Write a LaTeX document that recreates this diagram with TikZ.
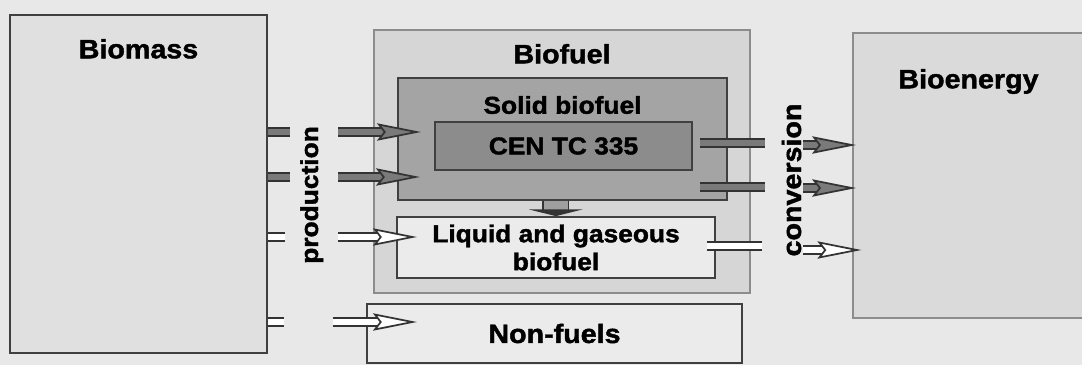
\documentclass[tikz,border=0pt]{standalone}
\usepackage{fontspec}
\setmainfont{Liberation Sans}[FakeStretch=1.1, BoldFeatures={FakeStretch=1.08, FakeBold=1.6}]
\usepackage{tikz}
\usetikzlibrary{arrows.meta,positioning}

\definecolor{paper}{HTML}{E8E8E8}
\definecolor{massfill}{HTML}{E0E0E0}
\definecolor{fuelfill}{HTML}{D6D6D6}
\definecolor{solidfill}{HTML}{A4A4A4}
\definecolor{cenfill}{HTML}{8C8C8C}
\definecolor{lightfill}{HTML}{EBEBEB}
\definecolor{energyfill}{HTML}{DADADA}
\definecolor{flowfill}{HTML}{7A7A7A}

\begin{document}
\begin{tikzpicture}[
  x=0.75pt, y=-0.75pt,
  lblbig/.style={font=\fontsize{19.9}{23}\selectfont\bfseries, inner sep=0pt},
  lblsmall/.style={font=\fontsize{18.3}{21}\selectfont\bfseries, inner sep=0pt, align=center},
  panel/.style={draw=black!75, line width=1.3pt},
  outer/.style={draw=black!45, line width=1.3pt},
  stubdark/.style={draw=black!80, line width=1.3pt, double=flowfill, double distance=4.5pt},
  stublight/.style={draw=black!80, line width=1.3pt, double=white, double distance=4.5pt},
  flowdark/.style={stubdark, -{Stealth[length=33pt, width=13pt, inset=5pt, fill=flowfill]}},
  flowlight/.style={stublight, -{Stealth[length=33pt, width=13pt, inset=5pt, fill=white]}},
  fatdown/.style={draw=black!80, line width=1.2pt, double=gray!75, double distance=18pt, -{Triangle[length=5pt, width=40pt]}},
]
\path[use as bounding box, fill=paper] (0,0) rectangle (1082,365);
% boxes
\node[panel, fill=massfill, minimum width=192.75pt, minimum height=253.5pt] (biomass) at (138.5,184) {};
\node[outer, fill=fuelfill, minimum width=282pt, minimum height=197.25pt] (biofuel) at (562,161.5) {};
\node[panel, fill=solidfill, minimum width=246.75pt, minimum height=91.5pt] (solid) at (562.5,139) {};
\node[panel, fill=cenfill, minimum width=192.75pt, minimum height=36pt, lblsmall] (cen) at (563.5,146) {CEN TC 335};
\node[panel, fill=lightfill, minimum width=238.5pt, minimum height=45.75pt, lblsmall] (liquid) at (556,247.5) {Liquid and gaseous\\biofuel};
\node[panel, fill=lightfill, minimum width=281.25pt, minimum height=44.25pt, lblbig] (nonfuel) at (554.5,333.5) {Non-fuels};
\node[outer, fill=energyfill, minimum width=173.25pt, minimum height=213.75pt] (bioenergy) at (968.5,175.5) {};
% titles
\node[lblbig, below=18.5pt of biomass.north] {Biomass};
\node[lblbig, below=11pt of biofuel.north] {Biofuel};
\node[lblsmall, below=14pt of solid.north] {Solid biofuel};
\node[lblbig, below=27.5pt of bioenergy.north] {Bioenergy};
\node[lblsmall, rotate=90, anchor=base] (prod) at (318,195) {production};
\node[lblbig, rotate=90, anchor=base] (conv) at (801,180) {conversion};
% production flows
\coordinate (p1s) at (290,132);
\coordinate (p1a) at (338,132);
\coordinate (p1t) at (421,132);
\coordinate (p2s) at (290,177);
\coordinate (p2a) at (338,177);
\coordinate (p2t) at (420,177);
\coordinate (p3s) at (285,237);
\coordinate (p3a) at (338,237);
\coordinate (p3t) at (417,237);
\coordinate (p4s) at (284,322);
\coordinate (p4a) at (333,322);
\coordinate (p4t) at (417,322);
\draw[stubdark] (biomass.east |- p1s) -- (p1s);
\draw[stubdark] (biomass.east |- p2s) -- (p2s);
\draw[stublight] (biomass.east |- p3s) -- (p3s);
\draw[stublight] (biomass.east |- p4s) -- (p4s);
\draw[flowdark] (p1a) -- (p1t);
\draw[flowdark] (p2a) -- (p2t);
\draw[flowlight] (p3a) -- (p3t);
\draw[flowlight] (p4a) -- (p4t);
% conversion flows
\coordinate (c1s) at (700,143);
\coordinate (c1e) at (765,143);
\coordinate (c1a) at (803,145);
\coordinate (c2s) at (700,187);
\coordinate (c2e) at (765,187);
\coordinate (c2a) at (803,188);
\coordinate (c3s) at (707,246);
\coordinate (c3e) at (762,246);
\coordinate (c3a) at (803,250);
\draw[stubdark] (c1s) -- (c1e);
\draw[stubdark] (c2s) -- (c2e);
\draw[stublight] (c3s) -- (c3e);
\draw[flowdark] (c1a) -- ([xshift=3pt]bioenergy.west |- c1a);
\draw[flowdark] (c2a) -- ([xshift=3pt]bioenergy.west |- c2a);
\draw[flowlight] (c3a) -- ([xshift=7pt]bioenergy.west |- c3a);
% solid to liquid
\draw[fatdown] ([xshift=-5pt]solid.south) -- ([xshift=-5pt]solid.south |- liquid.north);
\end{tikzpicture}
\end{document}
